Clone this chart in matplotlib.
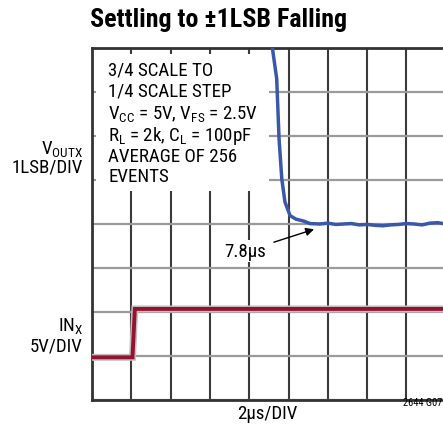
import matplotlib
matplotlib.use('Agg')
import matplotlib.pyplot as plt
from matplotlib.patches import Rectangle

plt.rcParams['font.family'] = ['Roboto Condensed', 'DejaVu Sans']
plt.rcParams['mathtext.fontset'] = 'custom'
plt.rcParams['mathtext.rm'] = 'Roboto Condensed'

# time in divisions (2us/div), amplitude in divisions
vout_t = [4.57, 4.59, 4.70, 4.76, 4.83, 4.91, 5.04, 5.19, 5.37, 5.55,
          5.8, 6.0, 6.2, 6.4, 6.6, 6.8, 7.0, 7.2, 7.4, 7.6, 7.8,
          8.0, 8.2, 8.4, 8.6, 8.8, 9.0, 9.2, 9.4, 9.6, 9.8, 10.0]
vout_y = [8.5, 8.0, 7.30, 5.93, 5.02, 4.50, 4.19, 4.11, 4.07, 4.01,
          4.00, 4.02, 3.99, 4.00, 4.01, 3.98, 3.99, 3.97, 3.96, 3.98, 3.99,
          4.01, 4.00, 3.98, 4.02, 4.03, 4.00, 3.99, 4.01, 4.00, 4.02, 4.00]

in_t = [0.0, 1.03, 1.09, 10.0]
in_y = [0.97, 0.97, 2.07, 2.07]

fs = 13.6

fig = plt.figure(figsize=(4.43, 4.31), dpi=100)
ax = fig.add_axes([92/443, 1 - 401/431, 393/443, 352/431])
ax.set_xlim(0, 10)
ax.set_ylim(0, 8)
ax.set_xticks(range(11))
ax.set_yticks(range(9))
ax.tick_params(length=0, labelbottom=False, labelleft=False)
ax.xaxis.grid(True, color='#3a3a3a', linewidth=1.5)
ax.yaxis.grid(True, color='#9a9a9a', linewidth=1.6)
for s in ['top', 'bottom', 'left']:
    ax.spines[s].set_color('#333333')
    ax.spines[s].set_linewidth(2)
ax.spines['right'].set_visible(False)

# white box behind the notes
ax.add_patch(Rectangle((0.1, 4.75), 4.4, 3.11, facecolor='white',
                       edgecolor='none', zorder=2))

ax.plot(in_t, in_y, color='#c0c0c0', linewidth=5, zorder=3, solid_joinstyle='miter')
ax.plot(in_t, in_y, color='#96102f', linewidth=2.8, zorder=4, solid_joinstyle='miter')
ax.plot(vout_t, vout_y, color='#3a58a8', linewidth=2.5, zorder=4)

notes = ['3/4 SCALE TO', '1/4 SCALE STEP',
         r'V$_{\mathregular{CC}}$ = 5V, V$_{\mathregular{FS}}$ = 2.5V',
         r'R$_{\mathregular{L}}$ = 2k, C$_{\mathregular{L}}$ = 100pF',
         'AVERAGE OF 256', 'EVENTS']
ny = [70.7, 91.7, 115, 136.5, 156.5, 177]
for t, y in zip(notes, ny):
    fig.text(108/443, 1 - y/431, t, fontsize=fs, va='center', ha='left', zorder=5)

ax.annotate('7.8µs', xy=(5.65, 3.88), xytext=(4.44, 3.38), fontsize=fs,
            ha='right', va='center', zorder=6,
            bbox=dict(facecolor='white', edgecolor='none', pad=1.5),
            arrowprops=dict(arrowstyle='-|>', color='black', lw=1,
                            mutation_scale=12, shrinkA=4, shrinkB=0))

fig.text(218/443, 1 - 20/431, 'Settling to ±1LSB Falling', fontsize=18.7,
         fontweight='bold', ha='center', va='center')
fig.text(83/443, 1 - 150/431, r'V$_{\mathregular{OUTX}}$', fontsize=fs, ha='right', va='center')
fig.text(83/443, 1 - 168/431, '1LSB/DIV', fontsize=fs, ha='right', va='center')
fig.text(83/443, 1 - 327/431, r'IN$_{\mathregular{X}}$', fontsize=fs, ha='right', va='center')
fig.text(83/443, 1 - 347/431, '5V/DIV', fontsize=fs, ha='right', va='center')
fig.text(267/443, 1 - 414/431, '2µs/DIV', fontsize=fs, ha='center', va='center')
fig.text(442/443, 1 - 403/431, '2644 G07', fontsize=7.5, ha='right', va='center')

fig.savefig('out.png', dpi=100)
